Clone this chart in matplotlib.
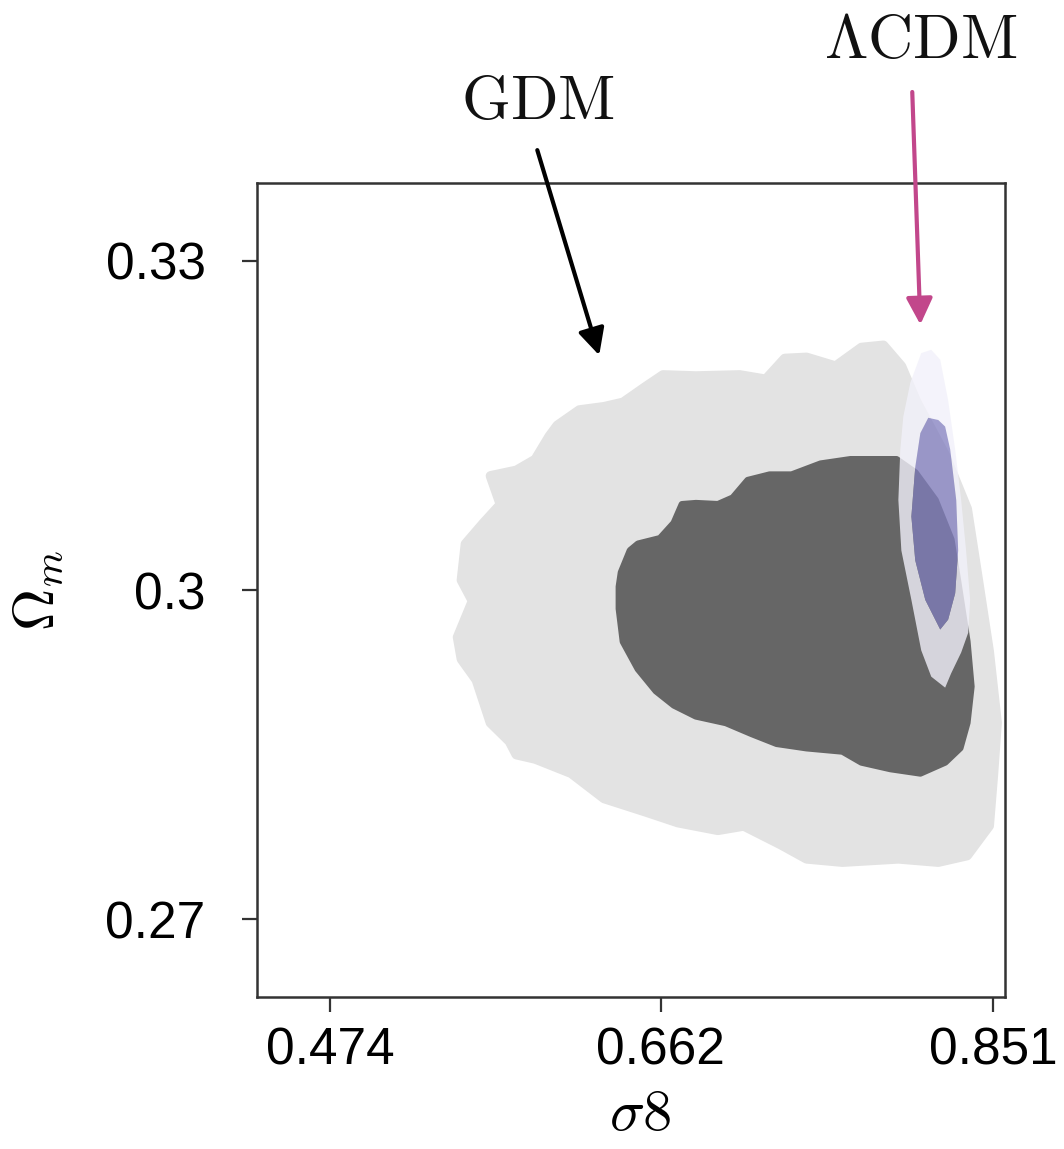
import matplotlib
matplotlib.use("Agg")
import matplotlib.pyplot as plt
import numpy as np
from matplotlib.path import Path
from matplotlib.patches import PathPatch

plt.rcParams['font.family'] = 'Liberation Sans'
plt.rcParams['mathtext.fontset'] = 'cm'

# ---- contornos (sigma8, Omega_m)
gdm_outer_s8 = [0.5653, 0.5800, 0.5908, 0.5987, 0.6033, 0.6158, 0.6299, 0.6407, 0.6532, 0.6634,
                0.6821, 0.7070, 0.7218, 0.7326, 0.7450, 0.7615, 0.7762, 0.7887, 0.7989, 0.8074,
                0.8238, 0.8363, 0.8426, 0.8488, 0.8533, 0.8511, 0.8488, 0.8363, 0.8199, 0.7972,
                0.7654, 0.7450, 0.7303, 0.7093, 0.6946, 0.6719, 0.6532, 0.6299, 0.6112, 0.5908,
                0.5800, 0.5761, 0.5653, 0.5573, 0.5488, 0.5466, 0.5551, 0.5488, 0.5511, 0.5613,
                0.5710]
gdm_outer_om = [0.3104, 0.3109, 0.3119, 0.3140, 0.3150, 0.3164, 0.3167, 0.3171, 0.3185, 0.3196,
                0.3195, 0.3196, 0.3192, 0.3211, 0.3212, 0.3204, 0.3221, 0.3223, 0.3204, 0.3172,
                0.3123, 0.3074, 0.3009, 0.2944, 0.2879, 0.2830, 0.2785, 0.2758, 0.2752, 0.2755,
                0.2752, 0.2755, 0.2768, 0.2785, 0.2781, 0.2788, 0.2798, 0.2810, 0.2833, 0.2846,
                0.2850, 0.2862, 0.2879, 0.2918, 0.2937, 0.2957, 0.2990, 0.3009, 0.3042, 0.3061,
                0.3078]

gdm_inner_s8 = [0.6384, 0.6396, 0.6447, 0.6492, 0.6617, 0.6696, 0.6742, 0.6821, 0.6946, 0.7031,
                0.7116, 0.7240, 0.7365, 0.7530, 0.7700, 0.7961, 0.8068, 0.8182, 0.8272, 0.8312,
                0.8363, 0.8386, 0.8363, 0.8323, 0.8238, 0.8097, 0.7927, 0.7762, 0.7654, 0.7450,
                0.7280, 0.7138, 0.6991, 0.6821, 0.6696, 0.6594, 0.6492, 0.6407, 0.6384]
gdm_inner_om = [0.3003, 0.3016, 0.3036, 0.3042, 0.3047, 0.3061, 0.3078, 0.3079, 0.3078, 0.3084,
                0.3100, 0.3105, 0.3105, 0.3115, 0.3119, 0.3119, 0.3107, 0.3082, 0.3046, 0.3006,
                0.2953, 0.2912, 0.2879, 0.2856, 0.2843, 0.2833, 0.2837, 0.2843, 0.2853, 0.2856,
                0.2860, 0.2869, 0.2879, 0.2885, 0.2895, 0.2908, 0.2928, 0.2953, 0.2983]

lcdm_outer_s8 = [0.8102, 0.8040, 0.8000, 0.7983, 0.7972, 0.7989, 0.8046, 0.8102, 0.8159, 0.8238,
                 0.8272, 0.8329, 0.8369, 0.8380, 0.8357, 0.8329, 0.8295, 0.8255, 0.8210, 0.8159]
lcdm_outer_om = [0.3216, 0.3189, 0.3158, 0.3128, 0.3082, 0.3036, 0.2991, 0.2945, 0.2921, 0.2911,
                 0.2924, 0.2943, 0.2961, 0.2991, 0.3036, 0.3082, 0.3128, 0.3173, 0.3210, 0.3219]

lcdm_inner_s8 = [0.8142, 0.8097, 0.8068, 0.8046, 0.8068, 0.8125, 0.8210, 0.8255, 0.8295, 0.8312,
                 0.8301, 0.8267, 0.8238, 0.8199]
lcdm_inner_om = [0.3157, 0.3143, 0.3112, 0.3067, 0.3027, 0.2991, 0.2964, 0.2973, 0.2997, 0.3036,
                 0.3082, 0.3128, 0.3149, 0.3155]

xticks = [0.474, 0.662, 0.851]
yticks = [0.27, 0.30, 0.33]
xtick_labels = ['0.474', '0.662', '0.851']
ytick_labels = ['0.27', '0.3', '0.33']


def area(xs, ys):
    xs = np.asarray(xs); ys = np.asarray(ys)
    return 0.5 * np.sum(xs * np.roll(ys, -1) - np.roll(xs, -1) * ys)


def anillo(xo, yo, xi, yi):
    # contorno exterior con hueco (orientacion opuesta para el hueco)
    ext = np.column_stack([xo, yo])
    hue = np.column_stack([xi, yi])
    if np.sign(area(xo, yo)) == np.sign(area(xi, yi)):
        hue = hue[::-1]
    verts = np.vstack([ext, ext[:1], hue, hue[:1]])
    codes = ([Path.MOVETO] + [Path.LINETO] * (len(ext) - 1) + [Path.CLOSEPOLY] +
             [Path.MOVETO] + [Path.LINETO] * (len(hue) - 1) + [Path.CLOSEPOLY])
    return Path(verts, codes)


fig = plt.figure(figsize=(10.64, 11.49), dpi=100)
ax = fig.add_axes([0.2415, 0.1323, 0.703, 0.7084])

# GDM (borde grueso redondeado para suavizar las esquinas)
ax.fill(gdm_outer_s8, gdm_outer_om, facecolor='#e3e3e3', edgecolor='#e3e3e3', lw=7, joinstyle='round')
ax.fill(gdm_inner_s8, gdm_inner_om, facecolor='#666666', edgecolor='#666666', lw=5, joinstyle='round')

# LCDM
ax.add_patch(PathPatch(anillo(lcdm_outer_s8, lcdm_outer_om, lcdm_inner_s8, lcdm_inner_om),
                       facecolor='#f2f1fa', edgecolor='none', alpha=0.8))
ax.fill(lcdm_inner_s8, lcdm_inner_om, color='#807dbe', alpha=0.75, lw=0)

ax.set_xlim(0.4325, 0.8578)
ax.set_ylim(0.2629, 0.3371)
ax.set_xticks(xticks)
ax.set_xticklabels(xtick_labels)
ax.set_yticks(yticks)
ax.set_yticklabels(ytick_labels)
ax.tick_params(axis='both', labelsize=37, length=11, width=1.6, color='#333333')
ax.tick_params(axis='x', pad=10)
ax.tick_params(axis='y', pad=26)
for s in ax.spines.values():
    s.set_linewidth(1.8)
    s.set_color('#333333')

ax.set_xlabel(r'$\sigma8$', fontsize=42)
ax.set_ylabel(r'$\Omega_m$', fontsize=42)
ax.xaxis.set_label_coords(0.512, -0.112)
ax.yaxis.set_label_coords(-0.255, 0.5)

# flechas y etiquetas
ax.annotate('', xy=(0.6271, 0.3214), xytext=(0.5919, 0.3401), annotation_clip=False,
            arrowprops=dict(arrowstyle='-|>', lw=3, color='black', mutation_scale=40,
                            shrinkA=0, shrinkB=0))
ax.annotate('', xy=(0.8097, 0.3242), xytext=(0.8051, 0.3454), annotation_clip=False,
            arrowprops=dict(arrowstyle='-|>', lw=3, color='#c2478b', mutation_scale=40,
                            shrinkA=0, shrinkB=0))
fig.text(0.5056, 0.9104, r'$\mathrm{GDM}$', fontsize=45, ha='center', va='center', color='#111111')
fig.text(0.8656, 0.9643, r'$\Lambda\mathrm{CDM}$', fontsize=45, ha='center', va='center', color='#111111')

fig.savefig('out.png', dpi=100)
